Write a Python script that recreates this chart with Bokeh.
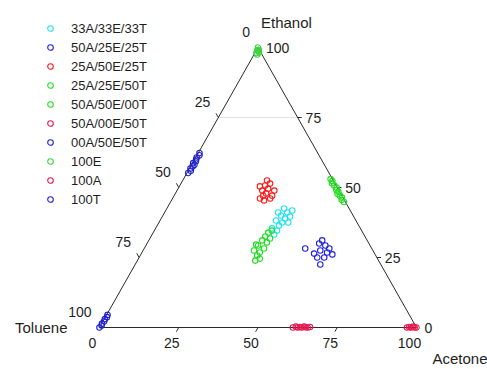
from bokeh.plotting import figure
from bokeh.models import ColumnDataSource, Range1d, Legend, LegendItem
from bokeh.core.properties import value
from bokeh.embed import file_html
from bokeh.resources import INLINE

# Compositions in percent: Acetone (A), Ethanol (E); Toluene = 100 - A - E
s33_a = [38.5, 36.7, 38.7, 38.4, 36.6, 38.9, 39.1, 37.3, 38.7, 40.3, 39.9, 37.0, 35.8, 40.8]
s33_e = [33.2, 35.4, 34.6, 36.4, 38.2, 37.5, 38.9, 40.0, 41.1, 39.6, 41.8, 42.5, 41.1, 37.5]

a50e25_a = [50.8, 54.3, 54.7, 56.6, 55.9, 54.5, 58.4, 60.4, 56.2, 58.4, 58.4, 58.4]
a50e25_e = [28.2, 30.0, 31.1, 29.3, 27.5, 26.4, 26.8, 26.1, 25.0, 25.0, 22.5, 28.2]

a25e50_a = [27.6, 29.2, 30.8, 30.9, 28.6, 26.9, 28.4, 30.7, 26.9, 28.1, 25.4, 26.6, 28.1]
a25e50_e = [46.1, 45.4, 46.1, 47.1, 47.9, 48.9, 49.6, 48.9, 50.7, 51.4, 50.4, 52.5, 47.1]

a25e25_a = [37.2, 36.9, 35.0, 37.2, 35.4, 37.8, 35.8, 37.6, 36.0, 37.9, 36.3, 37.1, 38.3, 34.6]
a25e25_e = [23.9, 25.7, 27.5, 26.8, 29.3, 28.2, 31.1, 30.4, 32.5, 31.8, 33.9, 34.6, 24.6, 29.6]

a50e50_a = [54.7, 53.6, 53.3, 52.3, 51.2, 51.1, 50.1, 49.8, 48.7, 47.6, 47.3, 46.4]
a50e50_e = [44.8, 45.6, 46.4, 47.1, 47.8, 48.5, 49.2, 50.0, 50.7, 51.5, 52.3, 53.0]

a50t50_a = [61.0, 61.8, 62.5, 63.1, 63.8, 64.4, 65.0, 65.7, 66.3]
a50t50_e = [0.0, 0.3, 0.0, 0.2, 0.0, 0.3, 0.1, 0.0, 0.2]

e50t50_a = [0.4, 0.8, 0.3, 0.6, 0.9, 0.2, 0.7, 0.5, 0.3, 0.8, 0.4]
e50t50_e = [55.2, 56.0, 56.8, 57.5, 58.1, 58.7, 59.4, 60.0, 60.7, 61.5, 62.3]

e100_a = [1.0, 0.5, 1.2, 0.3, 0.6, 0.0, 0.8]
e100_e = [97.5, 98.0, 98.3, 99.0, 99.2, 100.0, 98.8]

a100_a = [97.0, 97.6, 98.2, 98.8, 99.4, 100.0]
a100_e = [0.0, 0.2, 0.0, 0.3, 0.0, 0.0]

t100_a = [0.0, 0.3, 0.1, 0.4, 0.2, 0.5, 0.3]
t100_e = [0.0, 0.7, 1.4, 2.2, 3.0, 3.7, 4.5]

series = [
    ("33A/33E/33T", s33_a, s33_e, "#1ee3ef"),
    ("50A/25E/25T", a50e25_a, a50e25_e, "#2020dd"),
    ("25A/50E/25T", a25e50_a, a25e50_e, "#ff1a1a"),
    ("25A/25E/50T", a25e25_a, a25e25_e, "#22dd22"),
    ("50A/50E/00T", a50e50_a, a50e50_e, "#22dd22"),
    ("50A/00E/50T", a50t50_a, a50t50_e, "#e8174f"),
    ("00A/50E/50T", e50t50_a, e50t50_e, "#2020cc"),
    ("100E", e100_a, e100_e, "#3fd23f"),
    ("100A", a100_a, a100_e, "#e8174f"),
    ("100T", t100_a, t100_e, "#2020d0"),
]

tick_values = [0, 25, 50, 75, 100]
inner_ticks = [25, 50, 75]
grid_levels = [75]

FONT = value("Liberation Sans")
INK = "#2b2b2b"
TXT = "#1e1e1e"


def to_xy(a, e):
    """Ternary (acetone, ethanol) -> plane coordinates."""
    return [ai + ei / 2 for ai, ei in zip(a, e)], list(e)


p = figure(width=487, height=369, output_backend="svg", toolbar_location=None,
           x_range=Range1d(-31.23, 122.40), y_range=Range1d(-15.0, 116.79),
           min_border=0, x_axis_location=None, y_axis_location=None)
p.grid.visible = False
p.outline_line_color = None
p.background_fill_color = "white"

# faint ethanol grid line
gx0, gy0 = to_xy([0] * len(grid_levels), grid_levels)
gx1, gy1 = to_xy([100 - g for g in grid_levels], grid_levels)
p.segment(x0=gx0, y0=gy0, x1=gx1, y1=gy1, line_color="#e2e2e2", line_width=1)

# triangle frame: Toluene (0,0) -> Acetone (100,0) -> Ethanol (0,100)
tri_x, tri_y = to_xy([0, 100, 0, 0], [0, 0, 100, 0])
p.line(tri_x, tri_y, line_color=INK, line_width=1)

# tick marks on the three edges
bx, by = to_xy(inner_ticks, [0] * 3)
p.segment(x0=bx, y0=by, x1=[x - 0.75 for x in bx], y1=[y - 1.5 for y in by],
          line_color=INK, line_width=1)
rx, ry = to_xy([100 - v for v in inner_ticks], inner_ticks)
p.segment(x0=rx, y0=ry, x1=[x + 1.3 for x in rx], y1=ry, line_color=INK, line_width=1)
lx, ly = to_xy([0] * 3, [100 - v for v in inner_ticks])
p.segment(x0=lx, y0=ly, x1=[x - 0.75 for x in lx], y1=[y + 1.5 for y in ly],
          line_color=INK, line_width=1)

# tick labels
lab = [str(v) for v in tick_values]
tick_size = value("14px")
bx, by = to_xy(tick_values, [0] * 5)
p.text(x=bx, y=by, text=lab, x_offset=-7, y_offset=15, text_align="center",
       text_baseline="middle", text_font=FONT, text_font_size=tick_size, text_color=TXT)
rx, ry = to_xy([100 - v for v in tick_values], tick_values)
p.text(x=rx, y=ry, text=lab, x_offset=8, y_offset=0, text_align="left",
       text_baseline="middle", text_font=FONT, text_font_size=tick_size, text_color=TXT)
lx, ly = to_xy([0] * 5, [100 - v for v in tick_values])
p.text(x=lx, y=ly, text=lab, x_offset=-8, y_offset=-16, text_align="right",
       text_baseline="middle", text_font=FONT, text_font_size=tick_size, text_color=TXT)

# component names at the corners
cx, cy = to_xy([0, 100, 0], [100, 0, 0])
titles = ColumnDataSource(dict(x=cx, y=cy, text=["Ethanol", "Acetone", "Toluene"],
                               dx=[3, 16, -32], dy=[-25, 31, 0],
                               align=["left", "left", "right"]))
p.text(x="x", y="y", text="text", x_offset="dx", y_offset="dy", text_align="align",
       text_baseline="middle", text_font=FONT, text_font_size=value("15px"),
       text_color=TXT, source=titles)

items = []
for name, a, e, color in series:
    x, y = to_xy(a, e)
    r = p.scatter(x, y, marker="circle", size=5.5, fill_color=None,
                  line_color=color, line_width=1.1)
    items.append(LegendItem(label=name, renderers=[r]))

legend = Legend(items=items, location=(43, 162), orientation="vertical",
                border_line_color=None, background_fill_alpha=0,
                label_text_font="Liberation Sans", label_text_font_size="13px",
                label_text_color=TXT, glyph_width=14, glyph_height=16,
                label_height=16, spacing=3, label_standoff=14, padding=0, margin=0)
p.add_layout(legend)

open("out.html", "w").write(file_html(p, INLINE))
